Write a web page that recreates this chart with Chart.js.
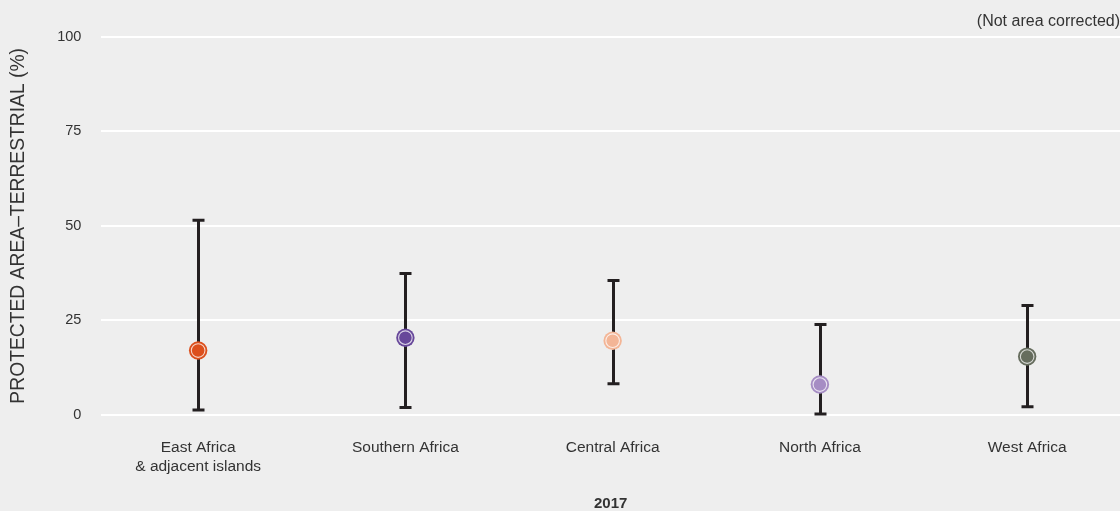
<!DOCTYPE html>
<html>
<head>
<meta charset="utf-8">
<script src="https://cdn.jsdelivr.net/npm/chart.js@4/dist/chart.umd.min.js"></script>
<style>
  html, body { margin: 0; padding: 0; background: #eeeeee; overflow: hidden; }
  #wrap { width: 1120px; height: 511px; position: relative; }
  canvas { display: block; }
</style>
</head>
<body>
<div id="wrap"><canvas id="chart"></canvas></div>
<script>
const regions = [['East Africa', '& adjacent islands'], 'Southern Africa', 'Central Africa', 'North Africa', 'West Africa'];
const medianValues = [17.0, 20.4, 19.6, 8.0, 15.4];
const lowValues = [1.3, 1.9, 8.2, 0.2, 2.1];
const highValues = [51.5, 37.4, 35.5, 23.9, 28.9];
const pointColors = ['#dc4f1c', '#67479a', '#f3b596', '#a68dc4', '#666d5e'];
const yTicks = [0, 25, 50, 75, 100];

const fontFamily = '"Liberation Sans", Arial, Helvetica, sans-serif';

// whiskers drawn from the low/high arrays through the chart scales
const errorBars = {
    id: 'errorBars',
    beforeDatasetsDraw(chart) {
        const { ctx, scales: { x, y } } = chart;
        ctx.save();
        ctx.strokeStyle = '#231f20';
        ctx.lineWidth = 3;
        lowValues.forEach((low, i) => {
            const px = Math.round(x.getPixelForValue(i)) + 0.5;
            const top = y.getPixelForValue(highValues[i]);
            const bottom = y.getPixelForValue(low);
            ctx.beginPath();
            ctx.moveTo(px, top);
            ctx.lineTo(px, bottom);
            ctx.moveTo(px - 6, top);
            ctx.lineTo(px + 6, top);
            ctx.moveTo(px - 6, bottom);
            ctx.lineTo(px + 6, bottom);
            ctx.stroke();
        });
        ctx.restore();
    }
};

const points = medianValues.map((v, i) => ({ x: i, y: v }));

new Chart(document.getElementById('chart'), {
    type: 'scatter',
    data: {
        datasets: [
            // inner ring (index 0 is drawn last, so it sits on top)
            {
                data: points,
                pointRadius: 6.8,
                pointHoverRadius: 6.8,
                pointBackgroundColor: pointColors,
                pointBorderColor: 'rgba(255,255,255,0.75)',
                pointBorderWidth: 1.1
            },
            {
                data: points,
                pointRadius: 9.2,
                pointHoverRadius: 9.2,
                pointBackgroundColor: pointColors,
                pointBorderWidth: 0
            }
        ]
    },
    options: {
        responsive: true,
        maintainAspectRatio: false,
        animation: false,
        layout: { autoPadding: false, padding: { left: 7, right: 0, top: 0, bottom: 0 } },
        plugins: {
            legend: { display: false },
            tooltip: { enabled: false },
            title: {
                display: true,
                text: '(Not area corrected)',
                align: 'end',
                color: '#333333',
                font: { family: fontFamily, size: 16, weight: 'normal' },
                padding: { top: 12.4, bottom: 5.2 }
            }
        },
        scales: {
            x: {
                type: 'linear',
                min: -0.467,
                max: 4.448,
                afterBuildTicks: axis => { axis.ticks = regions.map((r, i) => ({ value: i })); },
                afterFit: axis => { axis.paddingLeft = 0; axis.paddingRight = 0; },
                ticks: {
                    callback: value => regions[value],
                    color: '#333333',
                    font: { family: fontFamily, size: 15.5 },
                    padding: 24,
                    maxRotation: 0
                },
                grid: { display: false, drawTicks: false },
                border: { display: false },
                title: {
                    display: true,
                    text: '2017',
                    color: '#333333',
                    font: { family: fontFamily, size: 15, weight: 'bold' },
                    padding: { top: -5, bottom: -2 }
                }
            },
            y: {
                min: 0,
                max: 100,
                afterBuildTicks: axis => { axis.ticks = yTicks.map(v => ({ value: v })); },
                ticks: {
                    color: '#333333',
                    font: { family: fontFamily, size: 14.5 },
                    padding: 20
                },
                grid: { color: '#ffffff', lineWidth: 2, drawTicks: false },
                border: { display: false },
                title: {
                    display: true,
                    text: 'PROTECTED AREA–TERRESTRIAL (%)',
                    color: '#333333',
                    font: { family: fontFamily, size: 19.3 },
                    padding: { top: 0, bottom: 7 }
                }
            }
        }
    },
    plugins: [errorBars]
});
</script>
</body>
</html>
